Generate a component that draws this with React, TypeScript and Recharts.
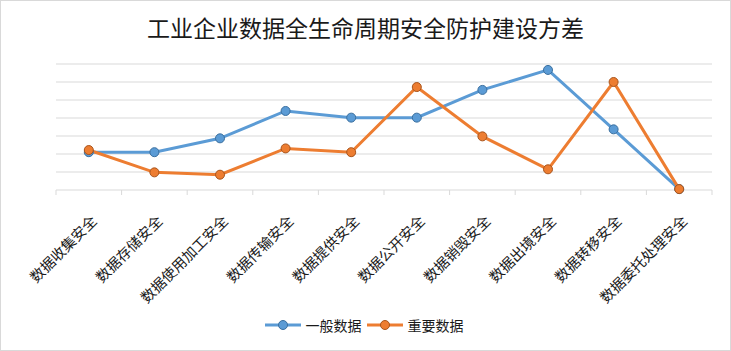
import { LineChart, Line, XAxis, YAxis, CartesianGrid, Legend } from 'recharts';

const categories = [
  '数据收集安全',
  '数据存储安全',
  '数据使用加工安全',
  '数据传输安全',
  '数据提供安全',
  '数据公开安全',
  '数据销毁安全',
  '数据出境安全',
  '数据转移安全',
  '数据委托处理安全',
];
const generalData = [2.1, 2.1, 2.87, 4.39, 4.02, 4.02, 5.56, 6.67, 3.37, 0.05];
const importantData = [2.22, 0.98, 0.85, 2.31, 2.1, 5.72, 2.98, 1.15, 6.0, 0.05];
const yTicks = [0, 1, 2, 3, 4, 5, 6, 7];
const Y_MAX = 7;

const seriesInfo = [
  { key: 'general', name: '一般数据', color: '#5b9bd5', border: '#3a6f9f' },
  { key: 'important', name: '重要数据', color: '#ed7d31', border: '#a8541c' },
];

const data = categories.map((c, i) => ({
  name: c,
  general: generalData[i],
  important: importantData[i],
}));

const FONT = '"Noto Sans CJK SC", "Noto Sans", sans-serif';
const GRID = '#d9d9d9';

// label rotated -45deg plus Excel-style tick marks on category boundaries
const RotatedTick = (props: any) => {
  const { x, y, payload, index, width, visibleTicksCount } = props;
  const band = width / visibleTicksCount;
  const ax = x + 9;
  const ay = y + 32;
  const left = x - band / 2;
  return (
    <g>
      <line x1={left} y1={y} x2={left} y2={y + 5} stroke={GRID} />
      {index === visibleTicksCount - 1 && (
        <line x1={x + band / 2} y1={y} x2={x + band / 2} y2={y + 5} stroke={GRID} />
      )}
      <text
        x={ax}
        y={ay}
        textAnchor="end"
        fontSize={14.5}
        fontFamily={FONT}
        fill="#1a1a1a"
        transform={`rotate(-45, ${ax}, ${ay})`}
      >
        {payload.value}
      </text>
    </g>
  );
};

const LegendContent = () => (
  <div style={{ display: 'flex', justifyContent: 'center', alignItems: 'center', height: 20, fontFamily: FONT, fontSize: 14, color: '#1a1a1a' }}>
    {seriesInfo.map((s) => (
      <div key={s.key} style={{ display: 'flex', alignItems: 'center', marginRight: 4 }}>
        <svg width={38} height={14} style={{ marginRight: 4 }}>
          <line x1={1} y1={7} x2={37} y2={7} stroke={s.color} strokeWidth={3} />
          <circle cx={19} cy={7} r={4.5} fill={s.color} stroke={s.border} strokeWidth={1} />
        </svg>
        <span>{s.name}</span>
      </div>
    ))}
  </div>
);

export default function App() {
  return (
    <div
      style={{
        position: 'absolute',
        left: 0,
        top: 0,
        width: 731,
        height: 351,
        boxSizing: 'border-box',
        border: '1px solid #d9d9d9',
        background: '#fff',
      }}
    >
      <div
        style={{
          position: 'absolute',
          top: 10,
          left: 0,
          width: 729,
          textAlign: 'center',
          fontFamily: FONT,
          fontSize: 23,
          color: '#1a1a1a',
          lineHeight: '32px',
        }}
      >
        工业企业数据全生命周期安全防护建设方差
      </div>
      <LineChart
        width={729}
        height={349}
        data={data}
        margin={{ top: 63, right: 18, left: 55, bottom: 5 }}
      >
        <CartesianGrid
          horizontal
          vertical={false}
          stroke={GRID}
          horizontalCoordinatesGenerator={({ offset }: any) =>
            yTicks.slice(1).map((t) => offset.top + offset.height * (1 - t / Y_MAX))
          }
        />
        <XAxis
          dataKey="name"
          scale="band"
          interval={0}
          height={125}
          axisLine={{ stroke: GRID }}
          tickLine={false}
          tickSize={0}
          tickMargin={0}
          tick={<RotatedTick />}
        />
        <YAxis
          domain={[0, Y_MAX]}
          ticks={yTicks}
          interval={0}
          width={0}
          tick={false}
          axisLine={false}
          tickLine={false}
        />
        <Legend
          verticalAlign="bottom"
          height={30}
          wrapperStyle={{ left: 0, width: 729 }}
          content={<LegendContent />}
        />
        {seriesInfo.map((s) => (
          <Line
            key={s.key}
            dataKey={s.key}
            name={s.name}
            stroke={s.color}
            strokeWidth={3}
            dot={{ r: 4.5, fill: s.color, stroke: s.border, strokeWidth: 1 }}
            activeDot={false}
            isAnimationActive={false}
          />
        ))}
      </LineChart>
    </div>
  );
}
